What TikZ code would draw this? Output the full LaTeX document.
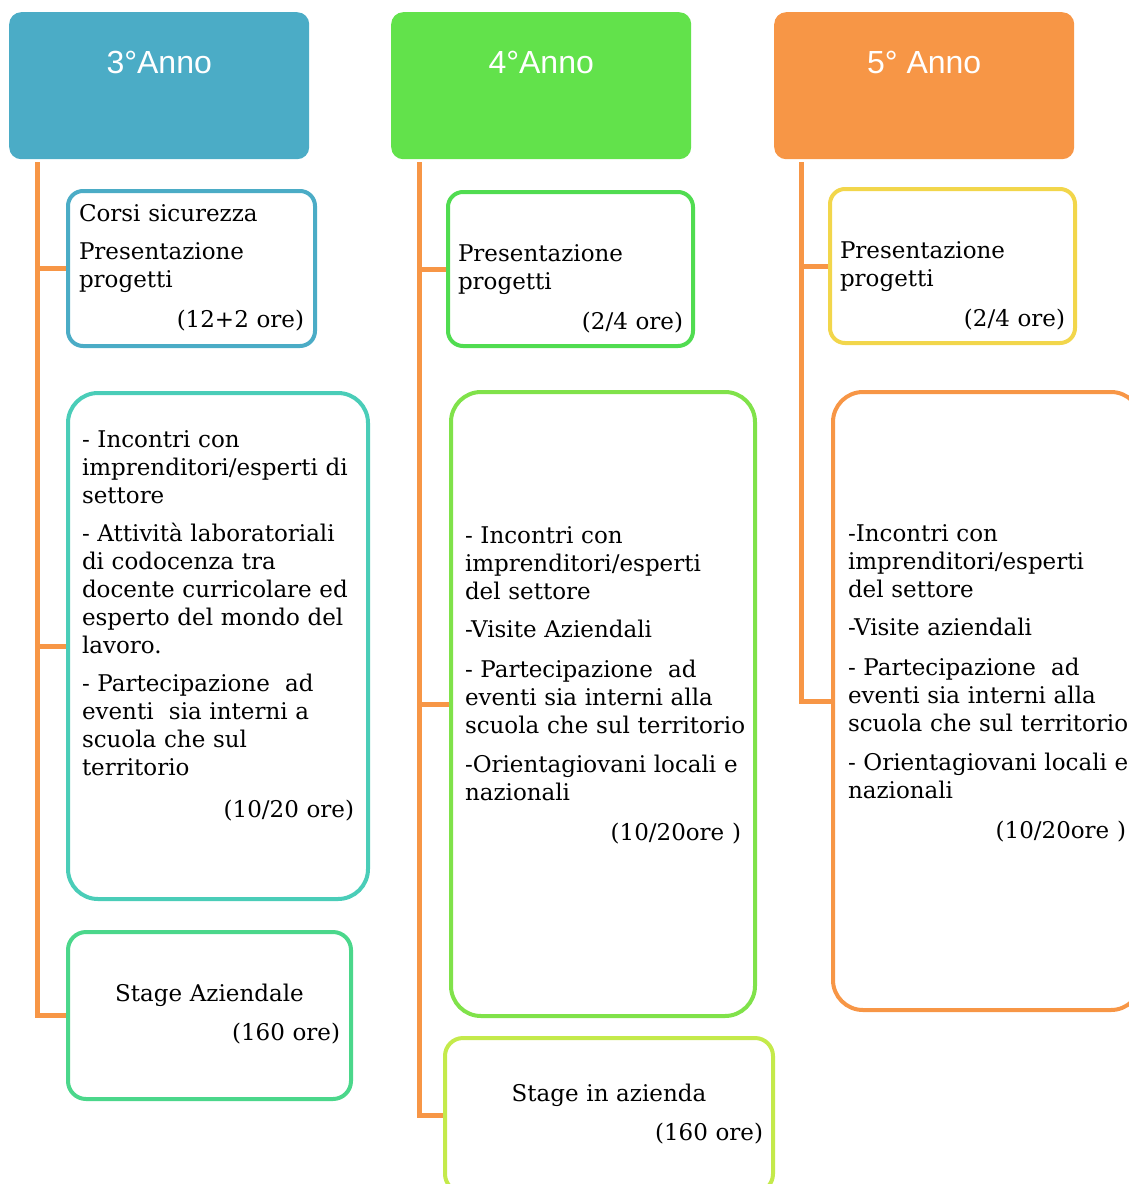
\documentclass[tikz,border=0pt]{standalone}
\usepackage{fontspec}
\setmainfont{DejaVu Serif}
\newfontfamily\hdfont{Liberation Sans}
\usepackage{tikz}
\usetikzlibrary{positioning}
\definecolor{annoblu}{HTML}{4BACC6}
\definecolor{annoverde}{HTML}{62E24B}
\definecolor{annoarancio}{HTML}{F79646}
\definecolor{bxturchese}{HTML}{4ACDB8}
\definecolor{bxsmeraldo}{HTML}{4BD78B}
\definecolor{bxverde}{HTML}{50DC50}
\definecolor{bxprato}{HTML}{80E24A}
\definecolor{bxlime}{HTML}{C4EA4B}
\definecolor{bxgiallo}{HTML}{F2D64B}
\newcommand{\oreright}[1]{\hspace*{\fill}#1}
\newcommand{\orecenter}[1]{\makebox[\linewidth][c]{#1}}

\begin{document}
\begin{tikzpicture}[x=1pt,y=-1pt,font=\fontsize{23}{28}\selectfont,
  hd/.style={anchor=north west,fill=#1,rounded corners=12pt,minimum width=300pt,inner sep=0pt,
    text height=61.5pt,text depth=85.5pt,text=white,font=\hdfont\fontsize{32}{38}\selectfont},
  bx/.style={anchor=north west,draw=#1,line width=4pt,rounded corners=15pt,inner ysep=0pt,align=left},
  trunk/.style={draw=annoarancio,line width=5pt}]
\useasboundingbox (0,0) rectangle (1128,1184);

\node[hd=annoblu] (hdA) at (9,12) {3°Anno};
\node[hd=annoverde] (hdB) at (391,12) {4°Anno};
\node[hd=annoarancio] (hdC) at (774,12) {5° Anno};

\node[bx=annoblu,text width=225pt,inner xsep=11pt,text height=30pt,text depth=125pt] (a1) at (66,189)
  {Corsi sicurezza\\[10pt] Presentazione\\ progetti\\[12pt] \oreright{(12+2 ore)}};
\node[bx=bxturchese,rounded corners=30pt,text width=272pt,inner xsep=14pt,text height=54pt,text depth=452pt] (a2) at (66,391)
  {- Incontri con\\ \mbox{imprenditori/esperti di}\\ settore\\[10pt]
   - Attività laboratoriali\\ di codocenza tra\\ \mbox{docente curricolare ed}\\ esperto del mondo del\\ lavoro.\\[10pt]
   - Partecipazione\ \ ad\\ eventi\ \ sia interni a\\ scuola che sul\\ territorio\\[14pt]
   \oreright{(10/20 ore)}};
\node[bx=bxsmeraldo,rounded corners=18pt,text width=261pt,inner xsep=11pt,text height=69pt,text depth=98pt] (a3) at (66,930)
  {\orecenter{Stage Aziendale}\\[11pt] \oreright{(160 ore)}};

\node[bx=bxverde,text width=225pt,inner xsep=10pt,text height=69pt,text depth=85pt] (b1) at (446,190)
  {Presentazione\\ progetti\\[12pt] \oreright{(2/4 ore)}};
\node[bx=bxprato,rounded corners=30pt,text width=276pt,inner xsep=14pt,text height=151pt,text depth=473pt] (b2) at (449,390)
  {- Incontri con\\ imprenditori/esperti\\ del settore\\[10pt]
   -Visite Aziendali\\[12pt]
   - Partecipazione\ \ ad\\ \mbox{eventi sia interni alla}\\ \mbox{scuola che sul territorio}\\[11pt]
   \mbox{-Orientagiovani locali e}\\ nazionali\\[12pt]
   \oreright{(10/20ore )}};
\node[bx=bxlime,rounded corners=18pt,text width=308pt,inner xsep=10pt,text height=63pt,text depth=91pt] (b3) at (443,1036)
  {\orecenter{Stage in azienda}\\[11pt] \oreright{(160 ore)}};

\node[bx=bxgiallo,text width=225pt,inner xsep=10pt,text height=69pt,text depth=85pt] (c1) at (828,187)
  {Presentazione\\ progetti\\[12pt] \oreright{(2/4 ore)}};
\node[bx=annoarancio,rounded corners=30pt,text width=278pt,inner xsep=15pt,text height=149pt,text depth=469pt] (c2) at (831,390)
  {-Incontri con\\ imprenditori/esperti\\ del settore\\[10pt]
   -Visite aziendali\\[12pt]
   - Partecipazione\ \ ad\\ \mbox{eventi sia interni alla}\\ \mbox{scuola che sul territorio}\\[11pt]
   \mbox{- Orientagiovani locali e}\\ nazionali\\[12pt]
   \oreright{(10/20ore )}};

\coordinate (trA) at ([xshift=28pt,yshift=-3pt]hdA.south west);
\coordinate (trB) at ([xshift=28pt,yshift=-3pt]hdB.south west);
\coordinate (trC) at ([xshift=27pt,yshift=-3pt]hdC.south west);
\draw[trunk] (trA) |- (a3.west);
\draw[trunk] (trA |- a1.west) -- (a1.west);
\draw[trunk] (trA |- a2.west) -- (a2.west);
\draw[trunk] (trB) |- (b3.west);
\draw[trunk] (trB |- b1.west) -- (b1.west);
\draw[trunk] (trB |- b2.west) -- (b2.west);
\draw[trunk] (trC) |- (c2.west);
\draw[trunk] (trC |- c1.west) -- (c1.west);
\end{tikzpicture}
\end{document}
